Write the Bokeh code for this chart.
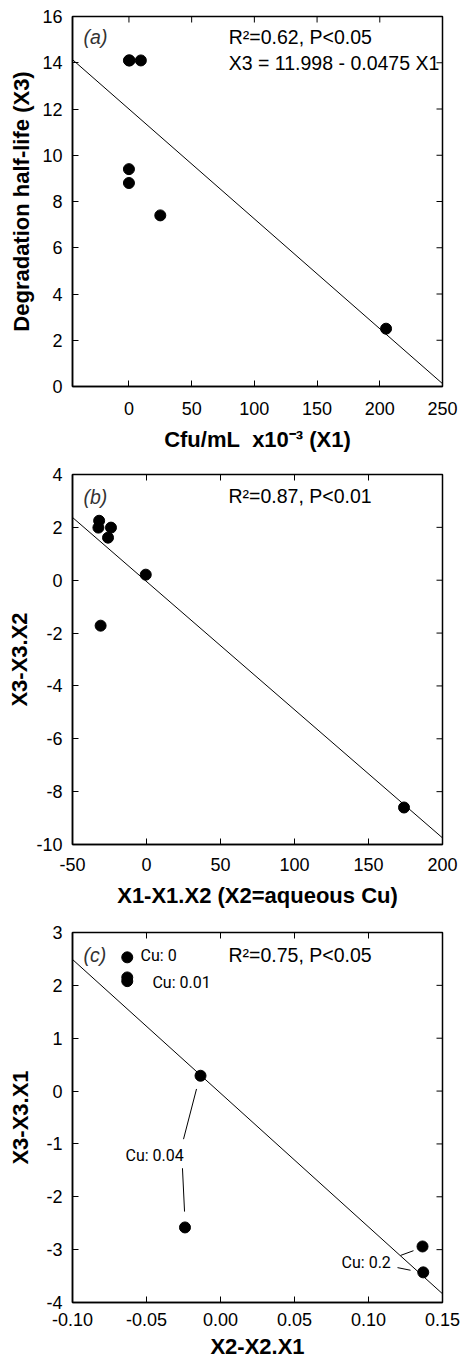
import math
from bokeh.plotting import figure
from bokeh.models import Range1d, FixedTicker, LinearAxis, Label
from bokeh.layouts import column
from bokeh.embed import file_html
from bokeh.resources import INLINE

# ---------------- data ----------------
# panel (a): half-life vs cfu
a_x = [0, 0.5, 9.5, 0, 0, 25, 205]
a_y = [14.1, 14.1, 14.1, 9.4, 8.8, 7.4, 2.5]
a_intercept, a_slope = 11.998, -0.0475
a_xticks = [0, 50, 100, 150, 200, 250]
a_xlabels = ["0", "50", "100", "150", "200", "250"]
a_yticks = [0, 2, 4, 6, 8, 10, 12, 14, 16]
a_ylabels = ["0", "2", "4", "6", "8", "10", "12", "14", "16"]

# panel (b)
b_x = [-32, -32.5, -24, -26, -0.5, -31, 174]
b_y = [2.25, 1.99, 1.99, 1.61, 0.21, -1.72, -8.6]
b_intercept, b_slope = -0.05, -0.0485
b_xticks = [-50, 0, 50, 100, 150, 200]
b_xlabels = ["-50", "0", "50", "100", "150", "200"]
b_yticks = [-10, -8, -6, -4, -2, 0, 2, 4]
b_ylabels = ["-10", "-8", "-6", "-4", "-2", "0", "2", "4"]

# panel (c)
c_x = [-0.063, -0.063, -0.063, -0.0135, -0.024, 0.1365, 0.137]
c_y = [2.53, 2.15, 2.08, 0.29, -2.58, -2.94, -3.43]
c_intercept, c_slope = -0.04, -25.3
c_xticks = [-0.10, -0.05, 0.00, 0.05, 0.10, 0.15]
c_xlabels = ["-0.10", "-0.05", "0.00", "0.05", "0.10", "0.15"]
c_yticks = [-4, -3, -2, -1, 0, 1, 2, 3]
c_ylabels = ["-4", "-3", "-2", "-1", "0", "1", "2", "3"]
cu_labels = ["Cu: 0", "Cu: 0.01", "Cu: 0.04", "Cu: 0.2"]

FONT = "Liberation Sans"
TICK_SIZE = "18px"
TITLE_SIZE = "22px"
ANN_SIZE = "19.5px"


def make_fig(xr, yr, xticks, xlabels, yticks, ylabels, xtitle, ytitle,
             height, top, bottom, xstand, xtstand, ystand):
    p = figure(width=462, height=height, x_range=Range1d(*xr), y_range=Range1d(*yr),
               output_backend="svg", toolbar_location=None,
               min_border_left=72, min_border_right=20, min_border_top=top,
               min_border_bottom=bottom, background_fill_color="white",
               border_fill_color="white", outline_line_color="black",
               outline_line_width=1.5, x_axis_location=None, y_axis_location=None)
    p.grid.visible = False
    xa = LinearAxis(ticker=FixedTicker(ticks=xticks), axis_label=xtitle,
                    major_label_overrides={t: s for t, s in zip(xticks, xlabels)})
    ya = LinearAxis(ticker=FixedTicker(ticks=yticks), axis_label=ytitle,
                    major_label_overrides={t: s for t, s in zip(yticks, ylabels)})
    for ax in (xa, ya):
        ax.major_tick_in = 6
        ax.major_tick_out = 0
        ax.minor_tick_line_color = None
        ax.axis_line_width = 1.5
        ax.major_tick_line_width = 1
        ax.major_label_text_font = FONT
        ax.major_label_text_font_size = TICK_SIZE
        ax.major_label_text_color = "black"
        ax.axis_label_text_font = FONT
        ax.axis_label_text_font_size = TITLE_SIZE
        ax.axis_label_text_font_style = "bold"
        ax.axis_label_text_color = "black"
    xa.major_label_standoff = xstand
    xa.axis_label_standoff = xtstand
    ya.major_label_standoff = 10
    ya.axis_label_standoff = ystand
    p.add_layout(xa, "below")
    p.add_layout(ya, "left")
    # mirrored inward ticks on top and right edges (half of each dash is clipped by the frame)
    p.scatter(xticks, [yr[1]] * len(xticks), marker="dash", angle=math.pi / 2,
              size=12, line_color="black", line_width=1)
    p.scatter([xr[1]] * len(yticks), yticks, marker="dash", size=12,
              line_color="black", line_width=1)
    return p


def fit_line(p, xr, intercept, slope):
    xs = list(xr)
    ys = [intercept + slope * x for x in xs]
    p.line(xs, ys, line_color="black", line_width=1)


def label(p, x, y, text, size=ANN_SIZE, style="normal", color="black", font=FONT):
    p.add_layout(Label(x=x, y=y, text=text, text_font=font, text_font_size=size,
                       text_font_style=style, text_color=color,
                       text_baseline="middle", text_align="left"))


# ---- panel (a)
xr_a, yr_a = (-45, 250), (0, 16)
pa = make_fig(xr_a, yr_a, a_xticks, a_xlabels, a_yticks, a_ylabels,
              "Cfu/mL\u00a0 x10\u207b\u00b3 (X1)", "Degradation half-life (X3)",
              466, 16, 80, 15, 9, 5)
fit_line(pa, xr_a, a_intercept, a_slope)
pa.scatter(a_x, a_y, size=11, color="black")
label(pa, -36.2, 15.13, "(a)", style="italic", color="#333333")
label(pa, 79.6, 15.1, "R\u00b2=0.62, P<0.05")
label(pa, 79.6, 13.99, "X3 = 11.998 - 0.0475 X1")

# ---- panel (b)
xr_b, yr_b = (-50, 200), (-10, 4)
pb = make_fig(xr_b, yr_b, b_xticks, b_xlabels, b_yticks, b_ylabels,
              "X1-X1.X2 (X2=aqueous Cu)", "X3-X3.X2", 458, 8, 80, 13, 9, 1)
fit_line(pb, xr_b, b_intercept, b_slope)
pb.scatter(b_x, b_y, size=11, color="black")
label(pb, -42.6, 3.13, "(b)", style="italic", color="#333333")
label(pb, 55.4, 3.17, "R\u00b2=0.87, P<0.01")

# ---- panel (c)
xr_c, yr_c = (-0.10, 0.15), (-4, 3)
pc = make_fig(xr_c, yr_c, c_xticks, c_xlabels, c_yticks, c_ylabels,
              "X2-X2.X1", "X3-X3.X1", 437, 8, 59, 10, 5, 10)
fit_line(pc, xr_c, c_intercept, c_slope)
pc.scatter(c_x, c_y, size=11, color="black")
label(pc, -0.0926, 2.58, "(c)", style="italic", color="#333333")
label(pc, 0.0054, 2.58, "R\u00b2=0.75, P<0.05")
# leader lines (annotation positions)
pc.segment(x0=[-0.0162, -0.0257, 0.1216, 0.1196], y0=[0.04, -1.46, -3.11, -3.34],
           x1=[-0.0250, -0.0243, 0.1304, 0.1284], y1=[-0.91, -2.28, -3.02, -3.39],
           line_color="black", line_width=1)
cu_pos = [(-0.054, 2.56), (-0.046, 2.05), (-0.0642, -1.21), (0.0818, -3.24)]
for (lx, ly), t in zip(cu_pos, cu_labels):
    label(pc, lx, ly, t, size="16px", font="Roboto")

layout = column(pa, pb, pc)
open("out.html", "w").write(file_html(layout, INLINE))
